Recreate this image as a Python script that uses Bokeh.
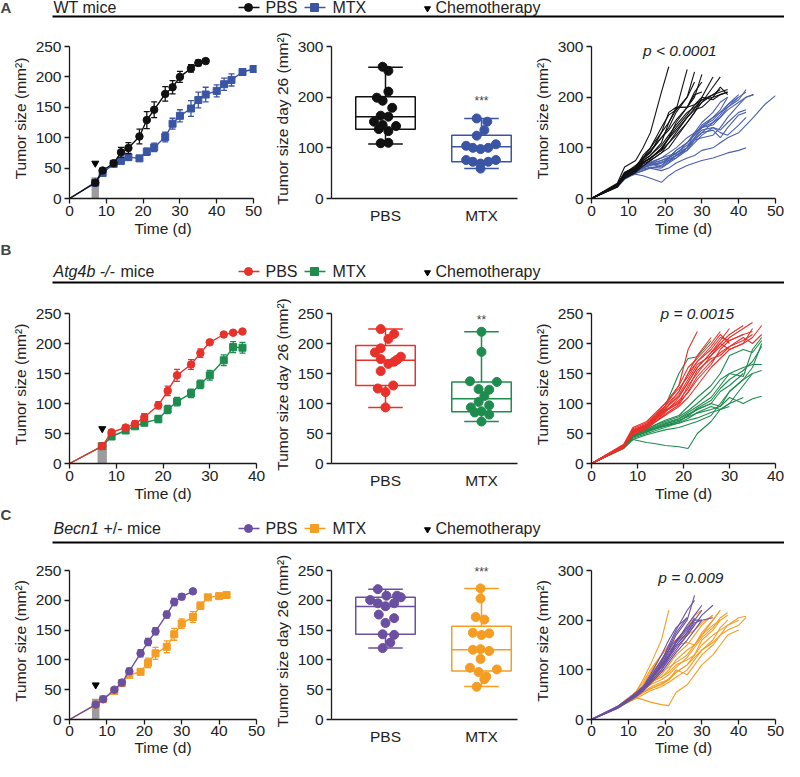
from bokeh.plotting import figure
from bokeh.models import Range1d, FixedTicker, Label
from bokeh.layouts import column, row
from bokeh.embed import file_html
from bokeh.resources import INLINE

FONT = "Liberation Sans"
TICK = "#1a1a1a"

# ---------------- colours ----------------
C_A = ("#111111", "#3b55a5")
C_B = ("#e8312a", "#1e8c4e")
C_C = ("#6b50a2", "#f59d23")

# ---------------- growth curves (mean +/- sem) ----------------
A_days_pbs = [7, 9, 12, 14, 16, 19, 21, 23, 26, 28, 30, 33, 35, 37]
A_mean_pbs = [26, 46, 58, 76, 83, 102, 129, 146, 172, 183, 200, 214, 223, 226]
A_sem_pbs = [3, 4, 4, 8, 9, 12, 14, 13, 12, 11, 9, 6, 5, 3]
A_days_mtx = [7, 9, 12, 14, 16, 19, 21, 23, 26, 28, 30, 33, 35, 37, 40, 42, 44, 47, 50]
A_mean_mtx = [26, 42, 57, 62, 68, 66, 77, 84, 101, 123, 136, 148, 162, 171, 177, 188, 195, 208, 213]
A_sem_mtx = [3, 4, 4, 5, 5, 4, 6, 7, 8, 9, 10, 13, 13, 12, 10, 10, 10, 5, 3]

B_days_pbs = [7, 9, 12, 14, 16, 19, 21, 23, 26, 28, 30, 33, 35, 37]
B_mean_pbs = [29, 52, 60, 66, 77, 97, 121, 147, 165, 184, 202, 215, 218, 220]
B_sem_pbs = [2, 3, 4, 5, 6, 6, 8, 10, 8, 7, 4, 3, 3, 2]
B_days_mtx = [7, 9, 12, 14, 16, 19, 21, 23, 26, 28, 30, 33, 35, 37]
B_mean_mtx = [29, 45, 55, 62, 68, 74, 90, 103, 117, 132, 147, 172, 194, 193]
B_sem_mtx = [2, 3, 3, 4, 5, 6, 7, 7, 7, 7, 8, 9, 9, 9]

C_days_pbs = [7, 9, 12, 14, 16, 19, 21, 23, 26, 28, 30, 33]
C_mean_pbs = [25, 34, 50, 62, 81, 111, 130, 148, 176, 197, 206, 215]
C_sem_pbs = [2, 3, 3, 5, 5, 6, 6, 6, 6, 6, 5, 2]
C_days_mtx = [7, 9, 12, 14, 16, 19, 21, 23, 26, 28, 30, 33, 35, 37, 40, 42]
C_mean_mtx = [25, 34, 48, 61, 75, 80, 95, 111, 122, 143, 161, 172, 191, 205, 207, 209]
C_sem_mtx = [2, 3, 3, 4, 5, 5, 8, 10, 10, 10, 8, 9, 6, 3, 3, 3]

CHEMO_DAY = [7]
CHEMO_WINDOW = [2]
CHEMO_TUMOR = [35]
ARROW_Y = [58]

# ---------------- tumour size at day 26 ----------------
groups = ["PBS", "MTX"]
# box stats: min, q1, median, q3, max
A_box_pbs = [107.5, 136.5, 161.5, 201, 259]
A_box_mtx = [59, 72.5, 102, 125, 158]
A_d26_pbs = [260, 252, 211, 199, 193, 179, 163.5, 161.5, 151.6, 145, 143, 137, 133, 109, 110]
A_jit_pbs = [-0.03, 0.03, 0.03, -0.09, -0.03, 0.07, -0.05, 0.03, -0.12, -0.03, 0.11, -0.07, 0.03, -0.05, 0.03]
A_d26_mtx = [158, 151.6, 135, 124, 104, 100, 97.6, 100, 107, 76, 72.5, 69, 72.5, 76, 59]
A_jit_mtx = [-0.05, 0.06, 0.03, -0.05, -0.16, -0.09, -0.01, 0.07, 0.15, -0.16, -0.09, -0.01, 0.07, 0.15, -0.01]

B_box_pbs = [93.5, 130, 172, 196.7, 224]
B_box_mtx = [70, 86.4, 108, 136, 219.6]
B_d26_pbs = [224, 216, 207.6, 185, 192, 174, 169.6, 166, 178, 154, 125, 130, 119, 93.5, 173]
B_jit_pbs = [-0.05, 0.09, 0.03, -0.11, -0.05, -0.05, 0.09, 0.03, 0.16, -0.05, -0.08, 0.08, 0.0, 0.0, 0.12]
B_d26_mtx = [219.6, 186, 137, 136, 124, 123, 112.5, 102.7, 97, 93.5, 85, 87, 81.5, 70]
B_jit_mtx = [0.0, 0.0, -0.12, 0.16, -0.03, 0.08, 0.03, -0.03, 0.08, -0.11, -0.07, 0.0, 0.08, 0.0]

C_box_pbs = [119.8, 143, 189.6, 205, 218.7]
C_box_mtx = [55.5, 81.3, 117, 156.6, 220]
C_d26_pbs = [218.7, 207.7, 207.7, 205, 200.5, 195, 190, 195, 176, 170, 162, 143, 142, 129, 119.8]
C_jit_pbs = [-0.08, 0.01, 0.12, 0.16, -0.16, -0.08, 0.0, 0.09, -0.07, 0.09, 0.0, -0.03, 0.09, 0.05, -0.03]
C_d26_mtx = [220, 203, 172, 167.6, 145.6, 141.8, 144.5, 117, 118, 115, 101.6, 86.8, 79.7, 84, 72, 67.6, 55]
C_jit_mtx = [-0.01, -0.01, -0.06, 0.03, -0.09, 0.0, 0.08, -0.09, -0.01, 0.08, -0.01, -0.12, -0.03, 0.16, 0.05, 0.03, -0.05]

# ---------------- individual mice ----------------
A_ind_days_pbs = [0, 7, 9, 12, 14, 16, 19, 21, 23, 26, 28, 30, 33, 35, 37]
A_ind_pbs = [
    [0, 30, 62, 75, 100, 130, 210, 260],
    [0, 25, 48, 60, 85, 100, 130, 150, 175, 255],
    [0, 27, 50, 65, 80, 95, 120, 140, 170, 200, 250],
    [0, 24, 45, 55, 70, 80, 95, 120, 150, 180, 200, 245],
    [0, 26, 44, 58, 72, 78, 100, 120, 140, 165, 185, 200, 240],
    [0, 22, 40, 52, 68, 75, 90, 110, 125, 150, 170, 190, 220, 240],
    [0, 28, 50, 60, 75, 85, 105, 125, 145, 170, 180, 195, 205, 215],
    [0, 25, 42, 55, 72, 80, 98, 118, 135, 160, 178, 190, 205, 210, 215],
    [0, 27, 48, 62, 80, 92, 120, 135, 155, 180, 185, 195, 200, 205, 210],
    [0, 23, 45, 58, 75, 85, 110, 150, 180, 180, 205, 210],
    [0, 26, 50, 60, 78, 90, 130, 170, 180, 180, 210, 230],
    [0, 24, 46, 56, 70, 80, 95, 110, 130, 160, 175, 180, 200, 220, 205],
    [0, 28, 52, 62, 80, 100, 140, 165, 175, 200, 230],
    [0, 25, 40, 52, 64, 75, 90, 100, 120, 150, 170, 200, 195, 205, 210],
]
A_ind_days_mtx = [0, 7, 9, 12, 14, 16, 19, 21, 23, 26, 28, 30, 33, 35, 37, 40, 42, 44, 47, 50]
A_ind_mtx = [
    [0, 25, 40, 50, 55, 60, 55, 60, 70, 80, 85, 95, 100, 110, 120, 130, 145, 160, 185, 203],
    [0, 26, 42, 48, 45, 40, 32, 45, 55, 65, 70, 75, 80, 85, 90, 95, 100],
    [0, 27, 44, 55, 60, 70, 80, 90, 100, 120, 130, 140, 150, 160, 175, 190, 200, 205],
    [0, 25, 42, 58, 62, 65, 70, 80, 95, 110, 130, 140, 160, 170, 180, 195, 215],
    [0, 24, 40, 52, 58, 62, 60, 70, 80, 100, 120, 140, 145, 160, 180, 200],
    [0, 26, 45, 60, 65, 70, 75, 80, 95, 110, 125, 145, 160, 175, 200],
    [0, 27, 43, 57, 62, 68, 62, 72, 85, 100, 120, 135, 140, 130, 125, 145, 160],
    [0, 25, 41, 55, 60, 66, 70, 78, 85, 95, 115, 130, 150, 165, 185, 205],
    [0, 28, 44, 60, 64, 72, 80, 85, 90, 100, 130, 150, 170, 190, 200],
    [0, 24, 40, 54, 60, 66, 72, 75, 80, 95, 110, 125, 140, 135, 150, 170, 175],
    [0, 26, 42, 58, 64, 70, 65, 80, 90, 105, 118, 130, 135, 120, 140, 165, 170],
    [0, 25, 43, 56, 62, 68, 75, 82, 88, 110, 125, 142, 155, 170, 185, 200, 210],
    [0, 23, 38, 50, 55, 60, 65, 75, 85, 100, 115, 120, 125, 140, 160, 185, 200, 205],
]

B_ind_days = [0, 7, 9, 12, 14, 16, 19, 21, 23, 26, 28, 30, 33, 35, 37]
B_ind_pbs = [
    [0, 30, 55, 65, 80, 95, 130, 190, 220],
    [0, 28, 52, 62, 75, 90, 120, 150, 180, 210],
    [0, 32, 60, 70, 85, 100, 130, 160, 175, 200, 220],
    [0, 29, 50, 60, 72, 85, 110, 135, 160, 185, 205, 225],
    [0, 27, 55, 65, 78, 88, 100, 130, 150, 180, 200, 215, 230],
    [0, 30, 52, 63, 76, 90, 115, 140, 165, 180, 195, 210, 225, 235],
    [0, 28, 48, 58, 70, 80, 95, 110, 130, 160, 175, 190, 200, 210, 230],
    [0, 31, 56, 66, 80, 95, 120, 150, 170, 190, 210, 205, 215, 220],
    [0, 26, 50, 60, 70, 82, 98, 120, 145, 170, 185, 195, 205, 215],
    [0, 29, 53, 64, 75, 88, 105, 125, 155, 175, 180, 195, 210, 200, 215],
    [0, 30, 58, 68, 82, 100, 125, 145, 170, 195, 215, 200],
    [0, 27, 51, 61, 74, 86, 102, 118, 140, 165, 190, 205, 215],
    [0, 30, 54, 63, 77, 92, 112, 135, 160, 185, 200, 190, 200, 225],
]
B_ind_mtx = [
    [0, 28, 46, 60, 75, 95, 150, 175, 178, 205],
    [0, 30, 40, 35, 33, 30, 28, 25, 50, 70, 90, 100, 110],
    [0, 27, 44, 52, 58, 62, 70, 80, 90, 100, 95, 110, 100, 108, 112],
    [0, 28, 46, 56, 62, 68, 75, 85, 95, 110, 130, 150, 160, 165, 165],
    [0, 26, 42, 50, 55, 60, 68, 75, 85, 95, 90, 95],
    [0, 29, 48, 58, 65, 72, 80, 95, 110, 130, 150, 180, 190, 185, 205],
    [0, 27, 45, 54, 60, 66, 74, 82, 90, 100, 120, 130, 150],
    [0, 25, 40, 48, 52, 56, 60, 65, 70, 80, 100, 120, 140, 160, 200],
    [0, 28, 47, 57, 64, 70, 78, 88, 100, 120, 140, 150, 145, 190, 210],
    [0, 26, 44, 53, 58, 64, 70, 80, 92, 105, 125, 140, 155, 170, 195],
    [0, 27, 46, 55, 60, 66, 72, 78, 84, 90, 95, 120, 140, 150],
    [0, 28, 45, 54, 59, 63, 67, 72, 76, 85, 90, 100, 130, 150, 155],
]

C_ind_days_pbs = [0, 7, 9, 12, 14, 16, 19, 21, 23, 26, 28, 30, 33]
C_ind_pbs = [
    [0, 22, 32, 48, 60, 78, 110, 140, 170, 200, 250],
    [0, 25, 35, 50, 62, 80, 115, 150, 180, 220, 240],
    [0, 24, 34, 52, 64, 84, 120, 145, 175, 205],
    [0, 26, 36, 50, 60, 78, 105, 125, 150, 175, 200, 220],
    [0, 23, 33, 47, 60, 76, 100, 120, 140, 170, 190, 210, 230],
    [0, 25, 34, 51, 63, 82, 112, 135, 155, 180, 205],
    [0, 24, 36, 54, 66, 86, 118, 140, 160, 185],
    [0, 22, 31, 45, 57, 72, 95, 115, 135, 160, 180, 200, 205],
    [0, 26, 37, 52, 64, 80, 108, 130, 150, 175, 195, 200],
    [0, 23, 32, 48, 58, 74, 100, 125, 145, 170, 190],
    [0, 25, 35, 50, 62, 80, 110, 130, 155, 190, 210, 230],
    [0, 24, 33, 49, 61, 79, 106, 128, 158, 185, 200, 200],
    [0, 25, 34, 50, 65, 90, 130, 160, 185, 205],
]
C_ind_days_mtx = [0, 7, 9, 12, 14, 16, 19, 21, 23, 26, 28, 30, 33, 35, 37, 40, 42]
C_ind_mtx = [
    [0, 25, 35, 55, 80, 110, 160, 220],
    [0, 24, 33, 50, 70, 95, 130, 145, 160, 185, 210, 220],
    [0, 26, 36, 48, 60, 75, 85, 100, 120, 140, 150, 170, 200, 220],
    [0, 25, 34, 46, 55, 65, 75, 80, 95, 110, 130, 150, 170, 180, 190, 205, 208],
    [0, 23, 32, 44, 40, 35, 30, 28, 55, 70, 90, 110, 130, 150, 170, 180],
    [0, 25, 36, 50, 62, 75, 85, 95, 110, 120, 130, 160, 180, 200],
    [0, 24, 33, 47, 58, 72, 90, 110, 130, 150, 170, 190, 210],
    [0, 26, 37, 52, 70, 90, 120, 140, 150, 155, 150, 170, 190, 200, 210],
    [0, 25, 35, 45, 55, 62, 70, 80, 100, 90, 110, 130, 150, 170, 190, 200],
    [0, 23, 31, 42, 50, 58, 66, 75, 85, 100, 120, 140, 160, 185, 200],
    [0, 26, 38, 55, 75, 100, 130, 150, 160, 170, 180, 195, 210],
    [0, 24, 34, 48, 60, 70, 80, 90, 105, 125, 145, 165, 185, 205, 215],
    [0, 25, 36, 51, 64, 78, 95, 105, 115, 130, 150, 175, 200, 220],
    [0, 24, 32, 44, 54, 62, 72, 82, 95, 110, 125, 140, 155, 170, 180, 190, 205],
]

# ---------------- texts ----------------
Y_LABEL = "Tumor size (mm\u00b2)"
Y_LABEL_26 = "Tumor size day 26 (mm\u00b2)"
X_LABEL = "Time (d)"
P_TEXTS = ["p < 0.0001", "p = 0.0015", "p = 0.009"]

# ---------------- layout constants ----------------
W_LEFT, W_MID, W_RIGHT = 268, 257, 259
TOTAL_W = W_LEFT + W_MID + W_RIGHT
HEAD_PX = 8   # extra frame room above the top tick


def base_fig(width, frame, xr, xbounds, ymax, bl, br, bt, bb, std):
    height = bt + frame + bb
    y_end = ymax * (frame + HEAD_PX) / frame
    p = figure(width=width, height=height, x_range=xr, y_range=Range1d(0, y_end),
               output_backend="svg", toolbar_location=None,
               min_border_left=bl, min_border_right=br,
               min_border_top=bt - HEAD_PX, min_border_bottom=bb)
    p.outline_line_color = None
    p.xgrid.visible = False
    p.ygrid.visible = False
    p.background_fill_color = "white"
    p.border_fill_color = "white"
    p.yaxis.bounds = (0, ymax)
    p.xaxis.bounds = xbounds
    for ax in (p.xaxis[0], p.yaxis[0]):
        ax.axis_line_color = TICK
        ax.axis_line_width = 1.3
        ax.major_tick_line_color = TICK
        ax.major_tick_line_width = 1.3
        ax.major_tick_out = 5
        ax.major_tick_in = 0
        ax.minor_tick_out = 0
        ax.minor_tick_in = 0
        ax.major_label_text_font = FONT
        ax.major_label_text_font_size = "15.5px"
        ax.major_label_text_color = "#222222"
        ax.axis_label_text_font = FONT
        ax.axis_label_text_font_size = "15.5px"
        ax.axis_label_text_font_style = "normal"
        ax.axis_label_text_color = "#222222"
    p.yaxis.major_label_standoff = 3
    p.yaxis.axis_label_standoff = 4
    p.xaxis.major_label_standoff = std[0]
    p.xaxis.axis_label_standoff = std[1]
    return p


def growth_panel(g, xmax, xpad, xticks, days_p, mean_p, sem_p, days_m, mean_m, sem_m, cols):
    p = base_fig(W_LEFT, g["frame"], Range1d(0, xmax + xpad), (0, xmax), 250, 69, 12,
                 g["bt"], g["bb"], g["std"])
    p.xaxis.ticker = FixedTicker(ticks=xticks)
    p.yaxis.ticker = FixedTicker(ticks=[0, 50, 100, 150, 200, 250])
    p.xaxis.axis_label = X_LABEL
    p.yaxis.axis_label = Y_LABEL
    p.vbar(x=CHEMO_DAY, width=CHEMO_WINDOW[0], top=CHEMO_TUMOR, bottom=0,
           fill_color="#9c9c9c", line_color=None)
    series = [(days_m, mean_m, sem_m, cols[1], "square", 7),
              (days_p, mean_p, sem_p, cols[0], "circle", 7.5)]
    for d, m, s, c, mk, sz in series:
        p.line([0] + d, [0] + m, line_color=c, line_width=1.4)
        lo = [a - b for a, b in zip(m, s)]
        hi = [a + b for a, b in zip(m, s)]
        p.segment(x0=d, y0=lo, x1=d, y1=hi, line_color=c, line_width=1.3)
        p.scatter(x=d + d, y=lo + hi, marker="dash", size=6, line_color=c, line_width=1.3)
        p.scatter(x=d, y=m, marker=mk, size=sz, fill_color=c, line_color=c)
    p.scatter(x=CHEMO_DAY, y=ARROW_Y, marker="inverted_triangle", size=7,
              fill_color="black", line_color="black")
    return p


def box_panel(g, ymax, yticks, boxes, vals, jits, cols, stars, star_y):
    p = base_fig(W_MID, g["frame"], Range1d(0.4375, 2.375), "auto", ymax, 63, 8,
                 g["bt"], g["bb"], g["std"])
    p.xaxis.ticker = FixedTicker(ticks=[1, 2])
    p.xaxis.major_label_overrides = {1: groups[0], 2: groups[1]}
    p.xaxis.major_tick_out = 0
    p.xaxis.major_label_standoff = 8
    p.yaxis.ticker = FixedTicker(ticks=yticks)
    p.yaxis.axis_label = Y_LABEL_26
    hw, cw = 0.31, 0.18
    for i, (box, v, j, c) in enumerate(zip(boxes, vals, jits, cols)):
        xc = i + 1
        lo, q1, med, q3, hi = box
        p.quad(left=[xc - hw], right=[xc + hw], bottom=[q1], top=[q3],
               fill_color=None, line_color=c, line_width=1.5)
        p.segment(x0=[xc - hw], x1=[xc + hw], y0=[med], y1=[med], line_color=c, line_width=1.5)
        p.segment(x0=[xc, xc], x1=[xc, xc], y0=[lo, q3], y1=[q1, hi], line_color=c, line_width=1.5)
        p.segment(x0=[xc - cw, xc - cw], x1=[xc + cw, xc + cw], y0=[lo, hi], y1=[lo, hi],
                  line_color=c, line_width=1.5)
        p.scatter(x=[xc + jj for jj in j], y=v, marker="circle", size=9,
                  fill_color=c, line_color=c)
    p.add_layout(Label(x=2, y=star_y, text=stars, text_font=FONT, text_font_size="12px",
                       text_color="#444444", text_align="center", text_baseline="middle"))
    return p


def spag_panel(g, xmax, xticks, ymax, yticks, days_p, curves_p, days_m, curves_m, cols,
               ptext, px, py):
    p = base_fig(W_RIGHT, g["frame"], Range1d(0, xmax), (0, xmax), ymax, 66, 9,
                 g["bt"], g["bb"], g["std"])
    p.xaxis.ticker = FixedTicker(ticks=xticks)
    p.yaxis.ticker = FixedTicker(ticks=yticks)
    p.xaxis.axis_label = X_LABEL
    p.yaxis.axis_label = Y_LABEL
    p.multi_line(xs=[days_m[:len(c)] for c in curves_m], ys=curves_m, line_color=cols[1], line_width=1.1)
    p.multi_line(xs=[days_p[:len(c)] for c in curves_p], ys=curves_p, line_color=cols[0], line_width=1.1)
    p.add_layout(Label(x=px, y=py, text=ptext, text_font=FONT, text_font_size="15.5px",
                       text_font_style="italic", text_color="#222222",
                       text_align="center", text_baseline="middle"))
    return p


def header(h, letter, y_letter, y_title, y_line, title_parts, cols):
    p = figure(width=TOTAL_W, height=h, x_range=Range1d(0, TOTAL_W), y_range=Range1d(h, 0),
               output_backend="svg", toolbar_location=None, min_border=0,
               x_axis_location=None, y_axis_location=None)
    p.outline_line_color = None
    p.xgrid.visible = False
    p.ygrid.visible = False
    p.add_layout(Label(x=0, y=y_letter, text=letter, text_font=FONT, text_font_size="15px",
                       text_font_style="bold", text_baseline="middle", text_align="left"))
    for x, t, st in title_parts:
        p.add_layout(Label(x=x, y=y_title, text=t, text_font=FONT, text_font_size="16px",
                           text_font_style=st, text_baseline="middle", text_align="left",
                           text_color="#222222"))
    p.segment(x0=[52], x1=[TOTAL_W], y0=[y_line], y1=[y_line], line_color="black", line_width=1.8)
    # legend
    for (x0, x1, xm, xt, name, mk, c) in [(238, 259, 248, 265, groups[0], "circle", cols[0]),
                                           (304, 325, 314, 332, groups[1], "square", cols[1])]:
        p.segment(x0=[x0], x1=[x1], y0=[y_title], y1=[y_title], line_color=c, line_width=1.6)
        p.scatter(x=[xm], y=[y_title], marker=mk, size=8, fill_color=c, line_color=c)
        p.add_layout(Label(x=xt, y=y_title, text=name, text_font=FONT, text_font_size="16px",
                           text_baseline="middle", text_align="left", text_color="#222222"))
    p.scatter(x=[427], y=[y_title + 1], marker="inverted_triangle", size=6,
              fill_color="black", line_color="black")
    p.add_layout(Label(x=435, y=y_title, text="Chemotherapy", text_font=FONT, text_font_size="16px",
                       text_baseline="middle", text_align="left", text_color="#222222"))
    return p


GA = {"bt": 28, "frame": 152, "bb": 43, "std": (2, 1)}
GB = {"bt": 28, "frame": 150, "bb": 43, "std": (2, 1)}
GC = {"bt": 26, "frame": 149, "bb": 41, "std": (1, 0)}

# ---------------- row A ----------------
hA = header(18, "A", 7, 7, 16, [(53, "WT mice", "normal")], C_A)
a1 = growth_panel(GA, 50, 0.8, [0, 10, 20, 30, 40, 50],
                  A_days_pbs, A_mean_pbs, A_sem_pbs, A_days_mtx, A_mean_mtx, A_sem_mtx, C_A)
a2 = box_panel(GA, 300, [0, 100, 200, 300], [A_box_pbs, A_box_mtx],
               [A_d26_pbs, A_d26_mtx], [A_jit_pbs, A_jit_mtx], C_A, "***", 193)
a3 = spag_panel(GA, 50, [0, 10, 20, 30, 40, 50], 300, [0, 100, 200, 300],
                A_ind_days_pbs, A_ind_pbs, A_ind_days_mtx, A_ind_mtx, ("#111111", "#4a60ad"),
                P_TEXTS[0], 24, 293)

# ---------------- row B ----------------
hB = header(44, "B", 8, 30, 41, [(53, "Atg4b -/-", "italic"), (120, "mice", "normal")], C_B)
b1 = growth_panel(GB, 40, 0, [0, 10, 20, 30, 40],
                  B_days_pbs, B_mean_pbs, B_sem_pbs, B_days_mtx, B_mean_mtx, B_sem_mtx, C_B)
b2 = box_panel(GB, 250, [0, 50, 100, 150, 200, 250], [B_box_pbs, B_box_mtx],
               [B_d26_pbs, B_d26_mtx], [B_jit_pbs, B_jit_mtx], C_B, "**", 240)
b3 = spag_panel(GB, 40, [0, 10, 20, 30, 40], 250, [0, 50, 100, 150, 200, 250],
                B_ind_days, B_ind_pbs, B_ind_days, B_ind_mtx, C_B,
                P_TEXTS[1], 23, 250)

# ---------------- row C ----------------
hC = header(38, "C", 8, 22, 36, [(53, "Becn1", "italic"), (103, "+/- mice", "normal")], C_C)
c1 = growth_panel(GC, 50, 0, [0, 10, 20, 30, 40, 50],
                  C_days_pbs, C_mean_pbs, C_sem_pbs, C_days_mtx, C_mean_mtx, C_sem_mtx, C_C)
c2 = box_panel(GC, 250, [0, 50, 100, 150, 200, 250], [C_box_pbs, C_box_mtx],
               [C_d26_pbs, C_d26_mtx], [C_jit_pbs, C_jit_mtx], C_C, "***", 248)
c3 = spag_panel(GC, 50, [0, 10, 20, 30, 40, 50], 300, [0, 100, 200, 300],
                C_ind_days_pbs, C_ind_pbs, C_ind_days_mtx, C_ind_mtx, C_C,
                P_TEXTS[2], 27, 286)

layout = column(hA, row(a1, a2, a3), hB, row(b1, b2, b3), hC, row(c1, c2, c3))

open("out.html", "w").write(file_html(layout, INLINE))
